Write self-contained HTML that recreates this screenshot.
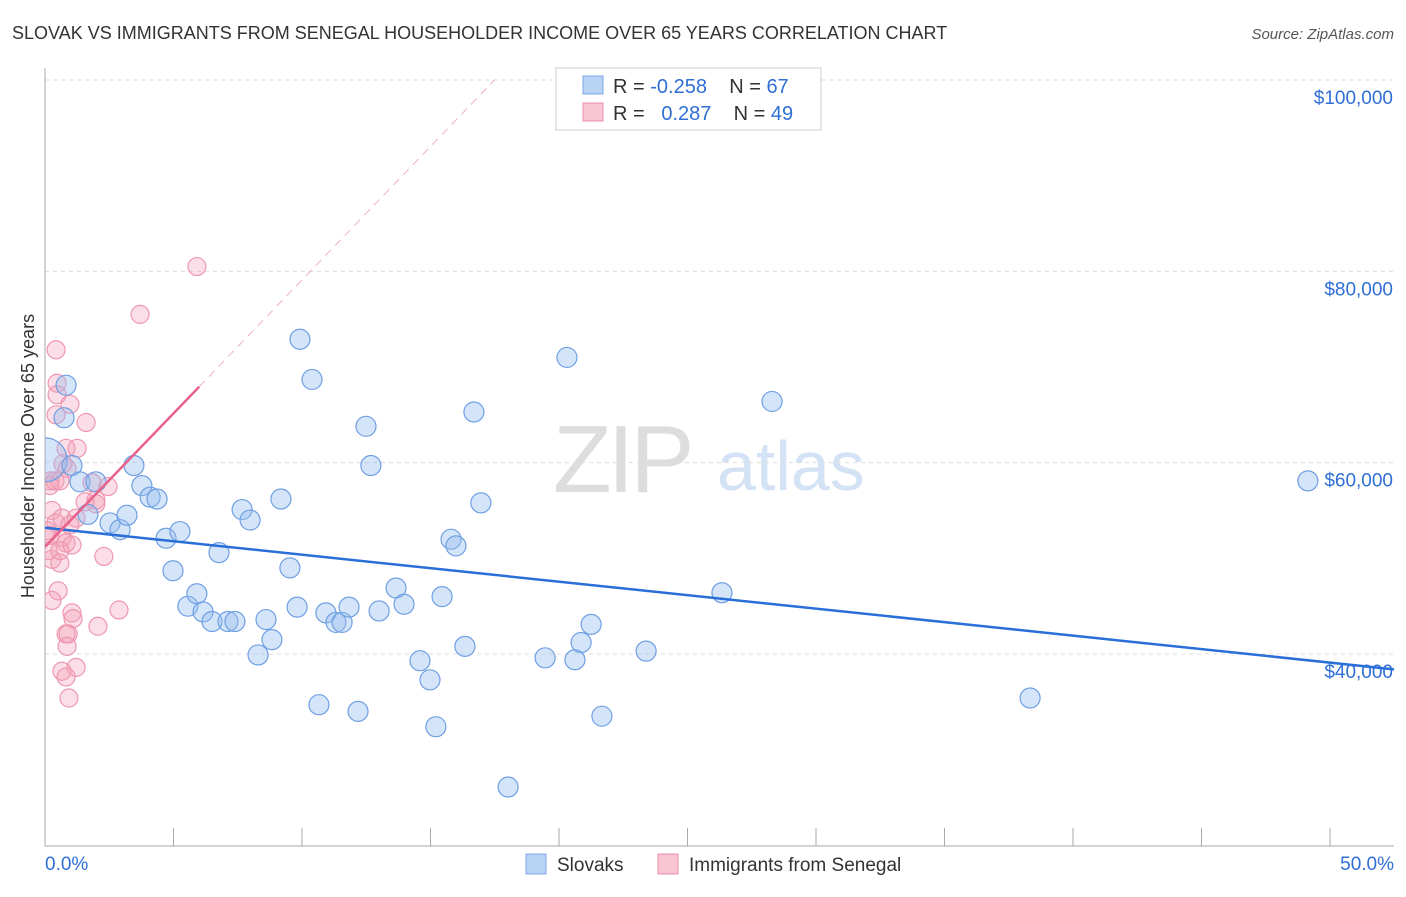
<!DOCTYPE html>
<html><head><meta charset="utf-8"><style>
body{margin:0;background:#fff;font-family:"Liberation Sans",sans-serif}
svg text{font-family:"Liberation Sans",sans-serif}
</style></head><body>
<svg id="chart" width="1406" height="892" viewBox="0 0 1406 892">
<text x="12" y="39" font-size="18" fill="#333">SLOVAK VS IMMIGRANTS FROM SENEGAL HOUSEHOLDER INCOME OVER 65 YEARS CORRELATION CHART</text>
<text x="1394" y="39" font-size="15" fill="#555" text-anchor="end" font-style="italic">Source: ZipAtlas.com</text>
<text x="553" y="492" font-size="96" fill="#ddd" font-family="Liberation Serif" letter-spacing="-4">ZIP</text>
<text x="717" y="490" font-size="70" fill="#d4e2f5">atlas</text>
<g id="grid"></g><g id="axes"></g><g id="marks"></g>
<text transform="translate(34,456) rotate(-90)" font-size="18" fill="#333" text-anchor="middle">Householder Income Over 65 years</text>
<g>
<rect x="556" y="68" width="265" height="62" fill="#fff" stroke="#ccc"/>
<rect x="583" y="76" width="20" height="18" fill="#b9d3f5" stroke="#7aa6e6"/>
<text x="613" y="93" font-size="20" fill="#333" xml:space="preserve">R = <tspan fill="#2f6fd6">-0.258</tspan>    N = <tspan fill="#2f6fd6">67</tspan></text>
<rect x="583" y="103" width="20" height="18" fill="#f8c6d3" stroke="#ea8fa8"/>
<text x="613" y="120" font-size="20" fill="#333" xml:space="preserve">R =   <tspan fill="#2f6fd6">0.287</tspan>    N = <tspan fill="#2f6fd6">49</tspan></text>
</g>
<g>
<rect x="526" y="854" width="20" height="20" fill="#b9d3f5" stroke="#7aa6e6"/>
<text x="557" y="871" font-size="19" fill="#333">Slovaks</text>
<rect x="658" y="854" width="20" height="20" fill="#f8c6d3" stroke="#ea8fa8"/>
<text x="689" y="871" font-size="19" fill="#333">Immigrants from Senegal</text>
</g>
</svg>
<script>
const xTicks=[0,5,10,15,20,25,30,35,40,45,50];
const yTicks=[40000,60000,80000,100000];
const yTickLabels=["$40,000","$60,000","$80,000","$100,000"];
const slovakX=[0,0.74,0.82,1.05,1.36,1.98,1.67,2.53,2.92,3.19,3.46,3.77,4.09,4.36,4.71,4.98,5.25,5.56,5.91,6.15,6.5,6.77,7.12,7.39,7.67,7.98,8.29,8.6,8.83,9.18,9.53,9.81,9.92,10.39,10.66,10.93,11.32,11.56,11.83,12.18,12.49,12.68,13.0,13.66,13.97,14.59,14.98,15.21,15.45,15.8,15.99,16.34,16.69,16.96,18.02,19.46,20.31,20.62,20.86,21.25,21.67,23.39,26.34,28.29,38.33,49.14];
const slovakY=[60.3,64.7,68.1,59.7,58.0,58.0,54.6,53.7,53.0,54.5,59.7,57.6,56.4,56.2,52.1,48.7,52.8,45.0,46.3,44.4,43.4,50.6,43.4,43.4,55.1,54.0,39.9,43.6,41.5,56.2,49.0,44.9,72.9,68.7,34.7,44.3,43.3,43.3,44.9,34.0,63.8,59.7,44.5,46.9,45.2,39.3,37.3,32.4,46.0,52.0,51.3,40.8,65.3,55.8,26.1,39.6,71.0,39.4,41.2,43.1,33.5,40.3,46.4,66.4,35.4,58.1];
const slovakR=[22,10,10,10,10,10,10,10,10,10,10,10,10,10,10,10,10,10,10,10,10,10,10,10,10,10,10,10,10,10,10,10,10,10,10,10,10,10,10,10,10,10,10,10,10,10,10,10,10,10,10,10,10,10,10,10,10,10,10,10,10,10,10,10,10,10];
const senegalX=[0.43,0.47,0.47,0.43,0.97,1.6,0.82,1.25,0.86,0.19,0.58,1.83,2.45,1.98,1.98,0.27,0.66,0.43,1.21,0.19,0.66,0.82,1.05,0.27,0.58,2.29,0.51,0.27,1.05,1.09,2.88,2.06,0.82,0.9,0.86,1.21,0.66,0.82,0.93,3.7,5.91,0.08,0.12,0.58,0.97,0.19,1.56,0.7,0.39];
const senegalY=[71.8,68.3,67.1,65.0,66.1,64.2,61.5,61.5,59.4,58.1,58.1,57.9,57.5,56.1,55.7,55.0,54.2,53.7,54.2,52.4,52.2,51.6,51.4,49.9,49.5,50.2,46.6,45.6,44.3,43.7,44.6,42.9,42.1,42.1,40.8,38.6,38.2,37.6,35.4,75.5,80.5,52.9,50.8,50.8,53.5,57.6,55.9,59.9,58.1];
const senegalR=[9,9,9,9,9,9,9,9,9,9,9,9,9,9,9,9,9,9,9,9,9,9,9,9,9,9,9,9,9,9,9,9,9,9,9,9,9,9,9,9,9,9,9,9,9,9,9,9,9];
const slovakTrend=[53.2,39.1];      // y (k$) at x=0 and x=50
const senegalTrend=[51.2,2.79,6.0]; // intercept, slope per %, solid end x
const NS="http://www.w3.org/2000/svg";
const X0=45,X1=1330,YA=654,YB=80;
const sx=v=>X0+(v/50)*(X1-X0);
const sy=k=>YA+(k-40)/60*(YB-YA);
function mk(t,a,p){const e=document.createElementNS(NS,t);for(const k in a)e.setAttribute(k,a[k]);p.appendChild(e);return e;}
const grid=document.getElementById('grid'),axes=document.getElementById('axes'),marks=document.getElementById('marks');
yTicks.forEach((v,i)=>{
 const y=sy(v/1000);
 const l=mk('line',{x1:45,x2:1394,y1:y,y2:y,stroke:'#ddd','stroke-dasharray':'4,4'},grid);
 
 
 const t=mk('text',{x:1393,y:y+24,'font-size':19,fill:'#2f6fd6','text-anchor':'end'},axes);
 t.textContent=yTickLabels[i];
 
 
});
const ax=mk('line',{x1:45,x2:45,y1:68,y2:846,stroke:'#aaa'},axes);


const bx=mk('line',{x1:45,x2:1394,y1:846,y2:846,stroke:'#aaa'},axes);


xTicks.forEach(v=>{
 const t=mk('line',{x1:sx(v),x2:sx(v),y1:828,y2:846,stroke:'#aaa'},axes);
 
 
});
const xl0=mk('text',{x:45,y:870,'font-size':19,fill:'#2f6fd6'},axes);xl0.textContent=xTicks[0].toFixed(1)+'%';


const xl1=mk('text',{x:1394,y:870,'font-size':19,fill:'#2f6fd6','text-anchor':'end'},axes);xl1.textContent=xTicks[xTicks.length-1].toFixed(1)+'%';


mk('clipPath',{id:'pc'},marks);
mk('rect',{x:45,y:60,width:1360,height:786},marks.lastChild);
const g=mk('g',{'clip-path':'url(#pc)'},marks);
senegalX.forEach((v,i)=>{
 const c=mk('circle',{cx:sx(v),cy:sy(senegalY[i]),r:senegalR[i],fill:'rgba(244,160,185,0.35)',stroke:'#ee97b0','stroke-width':1.2},g);
 
 
});
slovakX.forEach((v,i)=>{
 const c=mk('circle',{cx:sx(v),cy:sy(slovakY[i]),r:slovakR[i],fill:'rgba(150,190,240,0.4)',stroke:'#6e9fe3','stroke-width':1.2},g);
 
 
});
const bl=mk('line',{x1:sx(0),y1:sy(slovakTrend[0]),x2:1394,y2:sy(slovakTrend[0]+(slovakTrend[1]-slovakTrend[0])*((1394-X0)/(X1-X0))),stroke:'#2a6fd8','stroke-width':2.5},g);


const pe=senegalTrend[2],xEnd=(100-senegalTrend[0])/senegalTrend[1];
const pd=mk('line',{x1:sx(pe),y1:sy(senegalTrend[0]+senegalTrend[1]*pe),x2:sx(xEnd),y2:sy(100),stroke:'#f0b0c2','stroke-width':1,'stroke-dasharray':'8,6'},g);


const pl=mk('line',{x1:sx(0),y1:sy(senegalTrend[0]),x2:sx(pe),y2:sy(senegalTrend[0]+senegalTrend[1]*pe),stroke:'#e8628c','stroke-width':2.5},g);


</script>
</body></html>
